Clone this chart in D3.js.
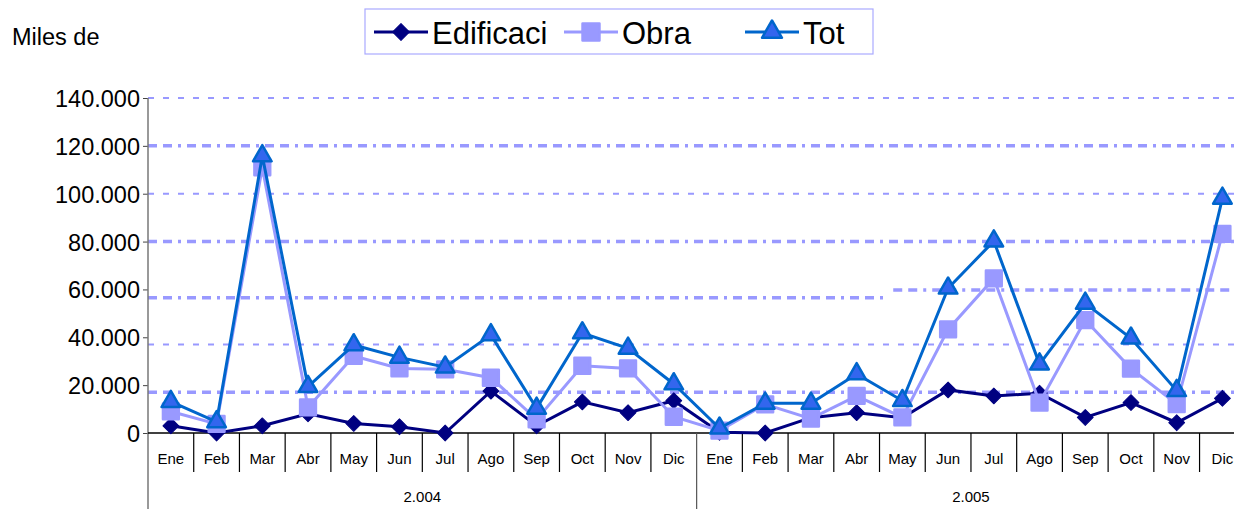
<!DOCTYPE html>
<html><head><meta charset="utf-8">
<script src="https://cdn.jsdelivr.net/npm/d3@7"></script>
<style>body{margin:0;background:#fff}svg{display:block}text{font-family:"Liberation Sans",Arial,sans-serif}</style>
</head><body>
<svg id="c" width="1234" height="509"></svg>
<script>
const months = ["Ene","Feb","Mar","Abr","May","Jun","Jul","Ago","Sep","Oct","Nov","Dic","Ene","Feb","Mar","Abr","May","Jun","Jul","Ago","Sep","Oct","Nov","Dic"];
const years = ["2.004","2.005"];
const edificacion = [3000,0,3000,8000,4000,2600,0,17500,3000,13000,8500,13500,300,0,6400,8500,6400,18000,15500,16600,6500,12700,4300,14500];
const obra = [9000,3800,111000,10700,32200,27000,26600,23100,5700,28100,27000,6800,1000,12000,6000,15500,6500,43300,64600,12700,47200,26900,12100,83200];
const total = [13100,4700,115800,19400,36800,31600,27500,41000,10300,41800,35400,20500,2000,12400,12400,24700,13500,60500,80200,28800,54200,39600,17700,98100];
const yTicks = [0,20000,40000,60000,80000,100000,120000,140000];
const seriesNames = ["Edificaci","Obra","Tot"];
// dashed gridlines as they appear in the picture: value, start/end in category units, weight
const gridValues = [17000,37000,56500,59800,80000,100000,120000,140000];
const gridFrom   = [0,0,0,16.3,0,0,0,0];
const gridTo     = [24,24,16.15,24,24,24,24,24];
const gridBold   = [1,0,1,1,1,0,1,0];

const svg = d3.select("#c");
const x0 = 148, step = 45.72;
const x = d3.scaleBand().domain(d3.range(24)).range([x0, x0 + step*24]).padding(0);
const xc = d3.scaleLinear().domain([0,24]).range([x0, x0 + step*24]);
const y = d3.scaleLinear().domain([0,140000]).range([433,98]);
const fmt = v => d3.format(",")(v).replace(/,/g,".");

// gridlines
gridValues.forEach((v,i)=>{
  svg.append("line")
    .attr("x1", xc(gridFrom[i])).attr("x2", xc(gridTo[i]))
    .attr("y1", y(v)).attr("y2", y(v))
    .attr("stroke","#9999FF")
    .attr("stroke-width", gridBold[i] ? 3.5 : 2)
    .attr("stroke-dasharray", gridBold[i] ? "9,6,9,6,3,6" : "6,9");
});

// y axis
const yAxis = d3.axisLeft(y).tickValues(yTicks).tickFormat(fmt).tickSize(5).tickSizeOuter(0).tickPadding(3);
const ga = svg.append("g").attr("transform",`translate(${x0},0)`).call(yAxis);
ga.select(".domain").remove();
ga.selectAll("text").attr("font-size",23.5).attr("fill","#000").style("font-family","Liberation Sans, Arial, sans-serif").attr("dy","0.36em");
ga.selectAll("line").attr("stroke","#444");
svg.append("line").attr("x1",x0).attr("x2",x0).attr("y1",y(140000)).attr("y2",509).attr("stroke","#777").attr("stroke-width",1.5);

// x axis baseline and separators
svg.append("line").attr("x1",x0).attr("x2",xc(24)).attr("y1",y(0)).attr("y2",y(0)).attr("stroke","#000").attr("stroke-width",1.5);
d3.range(1,24).forEach(i=>{
  svg.append("line").attr("x1",xc(i)).attr("x2",xc(i)).attr("y1",y(0)).attr("y2", i%12===0 ? 509 : 472)
    .attr("stroke", i%12===0 ? "#555" : "#000").attr("stroke-width",1.2);
});
svg.append("g").selectAll("text").data(months).join("text")
  .attr("x",(d,i)=>x(i)+x.bandwidth()/2).attr("y",464).attr("text-anchor","middle")
  .attr("font-size",15).attr("fill","#000").text(d=>d);
svg.append("g").selectAll("text").data(years).join("text")
  .attr("x",(d,i)=>xc(i*12+6)).attr("y",502).attr("text-anchor","middle")
  .attr("font-size",15).attr("fill","#000").text(d=>d);

// series
const cx = i => x(i)+x.bandwidth()/2;
const line = d3.line().x((d,i)=>cx(i)).y(d=>y(d));
const styles = [
  {data:edificacion, stroke:"#000080", fill:"#000080", ms:"#000080", msw:1, sym:d3.symbolSquare, size:125, rot:45},
  {data:obra, stroke:"#9999FF", fill:"#9999FF", ms:"#9999FF", msw:2.5, sym:d3.symbolSquare, size:250, rot:0},
  {data:total, stroke:"#0066CC", fill:"#3366EE", ms:"#0066CC", msw:2.5, sym:d3.symbolTriangle, size:150, rot:0}
];
styles.forEach(s=>{
  svg.append("path").datum(s.data).attr("d",line).attr("fill","none").attr("stroke",s.stroke).attr("stroke-width",3);
  svg.append("g").selectAll("path").data(s.data).join("path")
    .attr("transform",(d,i)=>`translate(${cx(i)},${y(d)}) rotate(${s.rot})`)
    .attr("d",d3.symbol().type(s.sym).size(s.size))
    .attr("fill",s.fill).attr("stroke",s.ms).attr("stroke-width",s.msw)
    .attr("stroke-linejoin","round");
});

// axis unit label
svg.append("text").attr("x",12).attr("y",45).attr("font-size",23.5).attr("fill","#000").text("Miles de");

// legend
const lg = svg.append("g");
lg.append("rect").attr("x",365).attr("y",9).attr("width",508).attr("height",45).attr("fill","#fff").attr("stroke","#aaaaff").attr("stroke-width",1.2);
const legX = [374,564,745];
styles.forEach((s,i)=>{
  lg.append("line").attr("x1",legX[i]).attr("x2",legX[i]+54).attr("y1",32).attr("y2",32).attr("stroke",s.stroke).attr("stroke-width",3);
  lg.append("path").attr("transform",`translate(${legX[i]+27},32) rotate(${s.rot})`)
    .attr("d",d3.symbol().type(s.sym).size(s.size*1.15))
    .attr("fill",s.fill).attr("stroke",s.ms).attr("stroke-width",s.msw).attr("stroke-linejoin","round");
  lg.append("text").attr("x",legX[i]+58).attr("y",44).attr("font-size",31).attr("fill","#000").text(seriesNames[i]);
});
</script>
</body></html>
